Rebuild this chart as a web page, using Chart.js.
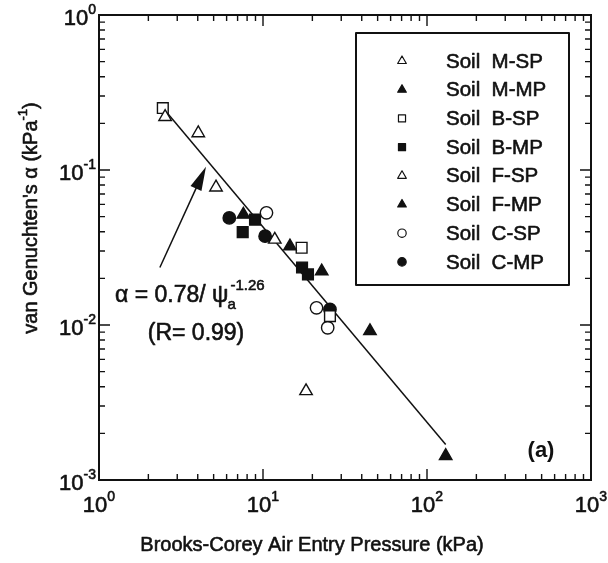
<!DOCTYPE html>
<html>
<head>
<meta charset="utf-8">
<script src="https://cdn.jsdelivr.net/npm/chart.js@4/dist/chart.umd.min.js"></script>
<style>
  html, body { margin: 0; padding: 0; background: #fff; }
  #wrap { width: 608px; height: 563px; }
</style>
</head>
<body>
<div id="wrap"><canvas id="c" width="608" height="563"></canvas></div>
<script>
// Air entry pressure (kPa) vs van Genuchten alpha (1/kPa), per soil sample
const seriesLabels = ['Soil  M-SP', 'Soil  M-MP', 'Soil  B-SP', 'Soil  B-MP',
                      'Soil  F-SP', 'Soil  F-MP', 'Soil  C-SP', 'Soil  C-MP'];
const seriesShapes = ['triangle', 'triangle', 'rect', 'rect', 'triangle', 'triangle', 'circle', 'circle'];
const seriesFilled = [false, true, false, true, false, true, false, true];

const mspPsi   = [2.53, 4.03, 5.17];
const mspAlpha = [0.220, 0.173, 0.0773];
const mmpPsi   = [7.59, 14.6];
const mmpAlpha = [0.0516, 0.0322];
const bspPsi   = [2.45, 17.2, 25.6];
const bspAlpha = [0.251, 0.0315, 0.0114];
const bmpPsi   = [7.52, 8.94, 17.3, 18.8];
const bmpAlpha = [0.0397, 0.0478, 0.0235, 0.0212];
const fspPsi   = [11.8, 18.3];
const fspAlpha = [0.0356, 0.00375];
const fmpPsi   = [22.8, 44.9, 130];
const fmpAlpha = [0.0222, 0.00914, 0.00143];
const cspPsi   = [10.5, 21.2, 24.8];
const cspAlpha = [0.0529, 0.0129, 0.0096];
const cmpPsi   = [6.23, 10.3, 25.6];
const cmpAlpha = [0.0491, 0.0374, 0.0126];

const seriesPsi   = [mspPsi, mmpPsi, bspPsi, bmpPsi, fspPsi, fmpPsi, cspPsi, cmpPsi];
const seriesAlpha = [mspAlpha, mmpAlpha, bspAlpha, bmpAlpha, fspAlpha, fmpAlpha, cspAlpha, cmpAlpha];

// Power-law fit alpha = 0.78 * psi^-1.26, drawn over the fitted range of psi
const fitCoef = 0.78;
const fitExp = -1.26;
const fitPsiRange = [2.6, 130];

// Decade exponents used for the tick labels
const xTickExps = [0, 1, 2, 3];
const yTickExps = [0, -1, -2, -3];

const FONT = '"Liberation Sans", Arial, Helvetica, sans-serif';
const INK = '#111';

const markerRadius = { triangle: 7.2, rect: 7.6, circle: 6.2 };

const datasets = seriesLabels.map((label, i) => ({
  label,
  data: seriesPsi[i].map((x, k) => ({ x, y: seriesAlpha[i][k] })),
  pointStyle: seriesShapes[i],
  pointRadius: markerRadius[seriesShapes[i]],
  pointHoverRadius: markerRadius[seriesShapes[i]],
  pointBackgroundColor: seriesFilled[i] ? INK : '#fff',
  pointBorderColor: INK,
  pointBorderWidth: 1.4,
  showLine: false,
  order: 0
}));

datasets.push({
  label: 'fit',
  type: 'line',
  data: fitPsiRange.map(x => ({ x, y: fitCoef * Math.pow(x, fitExp) })),
  borderColor: INK,
  borderWidth: 1.5,
  pointRadius: 0,
  fill: false,
  order: 10
});

// filled text with a hairline outline, giving the heavier printed look
function inkText(ctx, s, x, y) {
  ctx.fillText(s, x, y);
  ctx.strokeText(s, x, y);
}

function drawPow(ctx, x, y, exp, align, size, supSize) {
  const base = '10', sup = String(exp);
  ctx.font = size + 'px ' + FONT;
  const w1 = ctx.measureText(base).width;
  ctx.font = supSize + 'px ' + FONT;
  const w2 = ctx.measureText(sup).width;
  const total = w1 + w2;
  const start = align === 'center' ? x - total / 2 : x - total;
  ctx.textAlign = 'left';
  ctx.textBaseline = 'middle';
  ctx.font = size + 'px ' + FONT;
  inkText(ctx, base, start, y);
  ctx.font = supSize + 'px ' + FONT;
  inkText(ctx, sup, start + w1, y - size * 0.42);
}

const decorations = {
  id: 'decorations',
  afterDraw(chart) {
    const { ctx, chartArea: { left, right, top, bottom }, scales: { x, y } } = chart;
    ctx.save();
    ctx.strokeStyle = INK;
    ctx.fillStyle = INK;

    // plot frame
    ctx.lineWidth = 2;
    ctx.strokeRect(left, top, right - left, bottom - top);

    // inward log ticks on all four sides
    ctx.lineWidth = 1.4;
    ctx.beginPath();
    for (let d = 0; d < 3; d++) {
      for (let m = 1; m < 10; m++) {
        const px = x.getPixelForValue(m * Math.pow(10, d));
        const len = m === 1 ? 11 : 6;
        ctx.moveTo(px, bottom); ctx.lineTo(px, bottom - len);
        ctx.moveTo(px, top); ctx.lineTo(px, top + len);
      }
    }
    for (let d = -3; d < 0; d++) {
      for (let m = 1; m < 10; m++) {
        const py = y.getPixelForValue(m * Math.pow(10, d));
        const len = m === 1 ? 11 : 6;
        ctx.moveTo(left, py); ctx.lineTo(left + len, py);
        ctx.moveTo(right, py); ctx.lineTo(right - len, py);
      }
    }
    ctx.stroke();

    ctx.lineWidth = 0.6;
    ctx.lineJoin = 'round';

    // tick labels
    xTickExps.forEach(e => drawPow(ctx, x.getPixelForValue(Math.pow(10, e)), bottom + 26, e, 'center', 22, 14));
    yTickExps.forEach(e => drawPow(ctx, left - 3, y.getPixelForValue(Math.pow(10, e)) + 4, e, 'right', 22, 14));

    // x axis title
    ctx.font = '20px ' + FONT;
    ctx.textAlign = 'center';
    ctx.textBaseline = 'middle';
    inkText(ctx, 'Brooks-Corey Air Entry Pressure (kPa)', 312, 545);

    // y axis title (rotated, with superscript)
    ctx.save();
    ctx.translate(31, 218);
    ctx.rotate(-Math.PI / 2);
    const t1 = "van Genuchten's \u03B1 (kPa", t2 = '-1', t3 = ')';
    ctx.font = '20px ' + FONT;
    const a1 = ctx.measureText(t1).width, a3 = ctx.measureText(t3).width;
    ctx.font = '13px ' + FONT;
    const a2 = ctx.measureText(t2).width;
    const sx = -(a1 + a2 + a3) / 2;
    ctx.textAlign = 'left';
    ctx.font = '20px ' + FONT;
    inkText(ctx, t1, sx, 0);
    ctx.font = '13px ' + FONT;
    inkText(ctx, t2, sx + a1, -8);
    ctx.font = '20px ' + FONT;
    inkText(ctx, t3, sx + a1 + a2, 0);
    ctx.restore();

    // legend box
    const lb = { l: 356, t: 33, r: 569, b: 285 };
    ctx.lineWidth = 2;
    ctx.strokeRect(lb.l, lb.t, lb.r - lb.l, lb.b - lb.t);
    ctx.textAlign = 'left';
    ctx.textBaseline = 'middle';
    seriesLabels.forEach((label, i) => {
      const ry = 61 + i * 28.7;
      const style = {
        pointStyle: seriesShapes[i],
        radius: seriesShapes[i] === 'circle' ? 4.2 : 5,
        borderWidth: 1.2
      };
      ctx.fillStyle = seriesFilled[i] ? INK : '#fff';
      ctx.strokeStyle = INK;
      ctx.lineWidth = 1.2;
      Chart.helpers.drawPoint(ctx, style, 402, ry);
      ctx.fillStyle = INK;
      ctx.lineWidth = 0.6;
      ctx.font = '20.5px ' + FONT;
      inkText(ctx, label, 446, ry + 1);
    });

    // fit equation
    ctx.fillStyle = INK;
    ctx.lineWidth = 0.6;
    ctx.font = '23px ' + FONT;
    ctx.textAlign = 'left';
    const eq = '\u03B1 = 0.78/ \u03C8';
    const eqW = ctx.measureText(eq).width;
    inkText(ctx, eq, 115, 296);
    ctx.font = '15px ' + FONT;
    inkText(ctx, 'a', 115 + eqW - 1, 305);
    inkText(ctx, '-1.26', 115 + eqW + 2, 286);
    ctx.font = '23px ' + FONT;
    ctx.textAlign = 'center';
    inkText(ctx, '(R= 0.99)', 196, 334);

    // arrow pointing at the fit line
    const tail = { x: x.getPixelForValue(2.35), y: y.getPixelForValue(0.0235) };
    const tip = { x: x.getPixelForValue(4.49), y: y.getPixelForValue(0.105) };
    const ang = Math.atan2(tip.y - tail.y, tip.x - tail.x);
    const headLen = 24, headHalf = 6;
    ctx.lineWidth = 1.5;
    ctx.beginPath();
    ctx.moveTo(tail.x, tail.y);
    ctx.lineTo(tip.x - Math.cos(ang) * headLen * 0.8, tip.y - Math.sin(ang) * headLen * 0.8);
    ctx.stroke();
    const bx = tip.x - Math.cos(ang) * headLen, by = tip.y - Math.sin(ang) * headLen;
    ctx.beginPath();
    ctx.moveTo(tip.x, tip.y);
    ctx.lineTo(bx + Math.sin(ang) * headHalf, by - Math.cos(ang) * headHalf);
    ctx.lineTo(bx - Math.sin(ang) * headHalf, by + Math.cos(ang) * headHalf);
    ctx.closePath();
    ctx.fill();

    // panel tag
    ctx.font = 'bold 22px ' + FONT;
    ctx.textAlign = 'center';
    ctx.fillText('(a)', 541, 451);

    ctx.restore();
  }
};

new Chart(document.getElementById('c'), {
  type: 'scatter',
  data: { datasets },
  options: {
    responsive: false,
    animation: false,
    devicePixelRatio: 1,
    layout: { padding: { left: 99, right: 17, top: 15, bottom: 83 } },
    plugins: { legend: { display: false }, tooltip: { enabled: false } },
    scales: {
      x: { type: 'logarithmic', min: 1, max: 1000, display: false },
      y: { type: 'logarithmic', min: 0.001, max: 1, display: false }
    }
  },
  plugins: [decorations]
});
</script>
</body>
</html>
